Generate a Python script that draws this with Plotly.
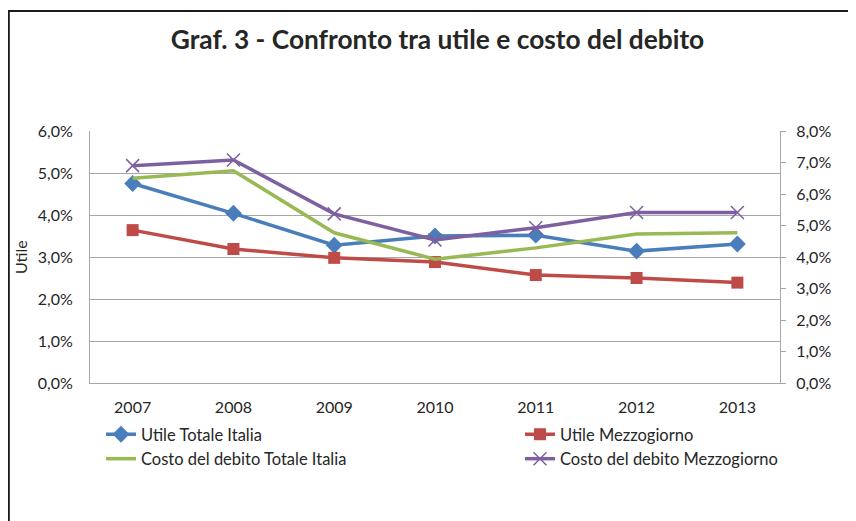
import plotly.graph_objects as go

years = ["2007", "2008", "2009", "2010", "2011", "2012", "2013"]
utile_italia = [0.0475, 0.0404, 0.0328, 0.0350, 0.0352, 0.0314, 0.0331]
utile_mezzogiorno = [0.0364, 0.0319, 0.0298, 0.0288, 0.0257, 0.0250, 0.0239]
costo_italia = [0.0650, 0.0674, 0.0477, 0.0393, 0.0429, 0.0473, 0.0477]
costo_mezzogiorno = [0.0690, 0.0708, 0.0537, 0.0454, 0.0493, 0.0541, 0.0541]

left_ticks = [0, 0.01, 0.02, 0.03, 0.04, 0.05, 0.06]
right_ticks = [0, 0.01, 0.02, 0.03, 0.04, 0.05, 0.06, 0.07, 0.08]

FONT = "Lato"
TXT = "#262626"
GRID = "#A6A6A6"

# page body adds an 8px offset; figure sized so it fits the window
W, H = 848, 513
PL, PR, PT, PB = 82, 772, 123, 375  # plot area in figure pixels
PW, PH = PR - PL, PB - PT

fig = go.Figure()
fig.add_trace(go.Scatter(x=years, y=utile_italia, name="Utile Totale Italia",
                         mode="lines+markers", line=dict(color="#4A7EBB", width=3.5),
                         marker=dict(symbol="diamond", size=13, color="#4A7EBB"),
                         legend="legend"))
fig.add_trace(go.Scatter(x=years, y=utile_mezzogiorno, name="Utile Mezzogiorno",
                         mode="lines+markers", line=dict(color="#BE4B48", width=3.5),
                         marker=dict(symbol="square", size=12, color="#BE4B48"),
                         legend="legend2"))
fig.add_trace(go.Scatter(x=years, y=costo_italia, name="Costo del debito Totale Italia",
                         mode="lines", line=dict(color="#98B954", width=3.5), yaxis="y2",
                         legend="legend"))
fig.add_trace(go.Scatter(x=years, y=costo_mezzogiorno, name="Costo del debito Mezzogiorno",
                         mode="lines+markers", line=dict(color="#7D60A0", width=3.5),
                         marker=dict(symbol="x-thin-open", size=13,
                                     line=dict(color="#7D60A0", width=1.5)),
                         yaxis="y2", legend="legend2"))

legend_common = dict(orientation="v", xanchor="left", yanchor="top",
                     xref="container", yref="container",
                     font=dict(family=FONT, size=16.5, color=TXT),
                     bgcolor="rgba(0,0,0,0)", tracegroupgap=0, itemwidth=30,
                     traceorder="normal")

fig.update_layout(
    width=W, height=H,
    paper_bgcolor="white", plot_bgcolor="white",
    separators=",.",
    margin=dict(l=PL, r=W - PR, t=PT, b=H - PB, autoexpand=False),
    font=dict(family=FONT, size=16, color=TXT),
    title=dict(text="<b>Graf. 3 - Confronto tra utile e costo del debito</b>",
               x=429.5 / W, xanchor="center", y=1 - 32 / H, yanchor="middle",
               font=dict(family=FONT, size=26.3, color=TXT)),
    xaxis=dict(type="category", showgrid=False, showline=True, linecolor=GRID,
               linewidth=1, ticks="", tickfont=dict(size=16, color=TXT),
               fixedrange=True, ticklabelstandoff=10),
    yaxis=dict(range=[0, 0.06], tickvals=left_ticks, tickformat=".1%",
               showgrid=True, gridcolor=GRID, gridwidth=1,
               showline=True, linecolor=GRID, linewidth=1, ticks="",
               zeroline=False, tickfont=dict(size=16, color=TXT),
               ticklabelstandoff=13),
    yaxis2=dict(range=[0, 0.08], tickvals=right_ticks, tickformat=".1%",
                overlaying="y", side="right", showgrid=False,
                showline=True, linecolor=GRID, linewidth=1,
                ticks="outside", ticklen=5, tickcolor=GRID,
                zeroline=False, tickfont=dict(size=16, color=TXT),
                ticklabelstandoff=7),
    legend=dict(x=93 / W, y=1 - 409 / H, **legend_common),
    legend2=dict(x=512 / W, y=1 - 409 / H, **legend_common),
    showlegend=True,
    annotations=[dict(text="Utile", xref="paper", yref="paper",
                      x=(12 - PL) / PW, y=0.5, xanchor="center", yanchor="middle",
                      textangle=-90, showarrow=False,
                      font=dict(family=FONT, size=16, color=TXT))],
    shapes=[dict(type="rect", xref="paper", yref="paper",
                 x0=(0.8 - PL) / PW, x1=1.3, y0=-1.5, y1=(PB - 3) / PH,
                 line=dict(color="#1a1a1a", width=2), fillcolor="rgba(0,0,0,0)",
                 layer="below")],
)

fig.write_html("out.html")
